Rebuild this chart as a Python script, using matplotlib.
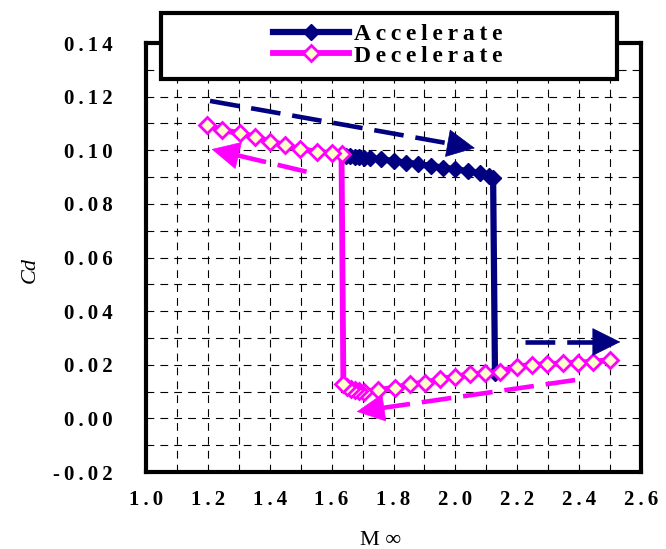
import matplotlib
matplotlib.use('Agg')
import numpy as np
import matplotlib.pyplot as plt
from matplotlib.ticker import MultipleLocator, FuncFormatter
from matplotlib.patches import Rectangle

plt.rcParams['font.family'] = ['Liberation Serif', 'DejaVu Serif']
plt.rcParams['font.weight'] = 'bold'

# accelerating run: Mach number and drag coefficient
acc_m = [1.645, 1.66, 1.675, 1.69, 1.705, 1.725, 1.76, 1.80, 1.84, 1.88, 1.92,
         1.96, 2.00, 2.04, 2.08, 2.11, 2.122, 2.128]
acc_cd = [0.0980, 0.0978, 0.0976, 0.0974, 0.0972, 0.0970, 0.0966, 0.0960, 0.0954,
          0.0948, 0.0942, 0.0935, 0.0929, 0.0922, 0.0914, 0.0905, 0.0897, 0.017]

# decelerating run (starts at high Mach)
dec_m = [2.500, 2.446, 2.397, 2.349, 2.295, 2.247, 2.198, 2.144, 2.096, 2.047,
         1.999, 1.950, 1.902, 1.853, 1.805, 1.750, 1.705, 1.690, 1.675, 1.662,
         1.650, 1.638, 1.632, 1.600, 1.552, 1.498, 1.449, 1.401, 1.352, 1.304,
         1.245, 1.196]
dec_cd = [0.0218, 0.0211, 0.0208, 0.0205, 0.0202, 0.0199, 0.0193, 0.0174, 0.0168, 0.0164,
          0.0155, 0.0146, 0.0133, 0.0127, 0.0114, 0.0106, 0.0100, 0.0102, 0.0106, 0.0111,
          0.0117, 0.0128, 0.0985, 0.0989, 0.0995, 0.1004, 0.1020, 0.1032, 0.1051, 0.1063,
          0.1076, 0.1094]

# direction arrows: (tail M, tail Cd, tip M, tip Cd)
acc_arrows = [(1.207, 0.1184, 2.063, 0.1008), (2.225, 0.0285, 2.533, 0.0285)]
dec_arrows = [(1.519, 0.0920, 1.212, 0.1004), (2.387, 0.0143, 1.681, 0.0025)]

navy = '#000080'
pink = '#FF00FF'

fig = plt.figure(figsize=(6.66, 5.49), dpi=100)
ax = fig.add_axes([146 / 666, 1 - 472 / 549, 495 / 666, 429 / 549])

ax.set_xlim(1.0, 2.6)
ax.set_ylim(-0.02, 0.14)
ax.xaxis.set_major_locator(MultipleLocator(0.2))
ax.xaxis.set_minor_locator(MultipleLocator(0.1))
ax.yaxis.set_major_locator(MultipleLocator(0.02))
ax.yaxis.set_minor_locator(MultipleLocator(0.01))


def spaced(s, sep='\u2009'):
    return sep.join(s)


ax.xaxis.set_major_formatter(FuncFormatter(lambda v, p: spaced(f'{v:.1f}')))
ax.yaxis.set_major_formatter(FuncFormatter(lambda v, p: spaced(f'{v:.2f}'.replace('-0.00', '0.00'))))
ax.tick_params(which='both', length=0, labelsize=15)
ax.tick_params(axis='x', pad=13)
ax.tick_params(axis='y', pad=24)

ax.grid(True, which='both', color='black', linewidth=0.8, linestyle=(0, (7, 5.5)))
ax.set_axisbelow(True)
for sp in ax.spines.values():
    sp.set_linewidth(3)

l1, = ax.plot(acc_m, acc_cd, color=navy, lw=4.5, marker='D', ms=8.5,
              mfc=navy, mec=navy, zorder=3)
l2, = ax.plot(dec_m, dec_cd, color=pink, lw=4.2, marker='D', ms=8.5,
              mfc='#FFFFCC', mec=pink, mew=2, zorder=4)


def dashed_arrow(x0, y0, x1, y1, c, head=27):
    # dashed shaft up to the base of a solid triangular head
    p0 = ax.transData.transform((x0, y0))
    p1 = ax.transData.transform((x1, y1))
    u = (p1 - p0) / np.hypot(*(p1 - p0))
    xb, yb = ax.transData.inverted().transform(p1 - u * head)
    ax.plot([x0, xb], [y0, yb], color=c, lw=3.3, linestyle=(0, (6.5, 2.6)),
            dash_capstyle='butt', zorder=5)
    ax.annotate('', xy=(x1, y1), xytext=(xb, yb),
                arrowprops=dict(arrowstyle='-|>,head_length=1.6,head_width=0.8',
                                mutation_scale=12, color=c, lw=0.5,
                                shrinkA=0, shrinkB=0),
                zorder=5)


for arrows, c in [(acc_arrows, navy), (dec_arrows, pink)]:
    for a in arrows:
        dashed_arrow(*a, c)

ax.set_xlabel('M \u221e', fontsize=16)
ax.xaxis.set_label_coords(0.475, -0.138)
ax.set_ylabel('Cd', fontsize=16, style='italic')
ax.yaxis.set_label_coords(-0.215, 0.47)

# legend box on top of the plot frame
fig.add_artist(Rectangle((161 / 666, 1 - 79 / 549), 456 / 666, 66 / 549,
                         transform=fig.transFigure, facecolor='white',
                         edgecolor='black', linewidth=3, zorder=2))
fig.legend([l1, l2], [spaced('Accelerate'), spaced('Decelerate')],
           loc='center', bbox_to_anchor=(388 / 666, 1 - 45 / 549), frameon=False,
           numpoints=1, handlelength=3.2, handletextpad=0.25, labelspacing=0.0,
           prop={'size': 17, 'weight': 'bold'})

fig.savefig('out.png', dpi=100)
